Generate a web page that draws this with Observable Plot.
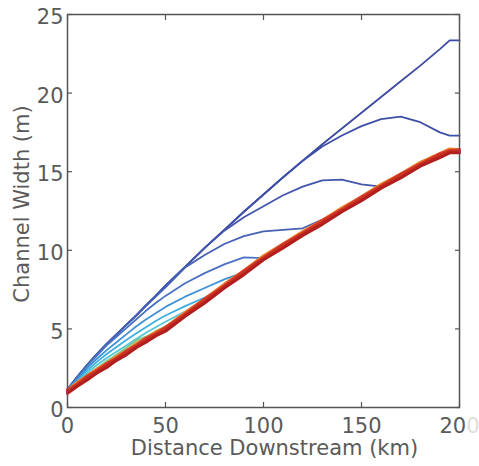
<!DOCTYPE html>
<html>
<head>
<meta charset="utf-8">
<script src="https://cdn.jsdelivr.net/npm/d3@7"></script>
<script src="https://cdn.jsdelivr.net/npm/@observablehq/plot@0.6"></script>
<style>
  html, body { margin: 0; padding: 0; background: #fff; }
  #wrap { position: relative; width: 479px; height: 466px; overflow: hidden; }
  #fade { position: absolute; left: 467px; top: 0; width: 12px; height: 466px; background: rgba(255,255,255,0.8); }
</style>
</head>
<body>
<div id="wrap"><div id="chart"></div><div id="fade"></div></div>
<script>
// Distance downstream (km)
const km = [0,5,10,15,20,25,30,35,40,45,50,60,70,80,90,100,110,120,130,140,150,160,170,180,190,195,200];

// Channel width (m) per model run, blue (first) to red (last)
const run1 = [1.15,1.95,2.7,3.4,4.05,4.65,5.25,5.85,6.5,7.1,7.75,8.95,10.15,11.3,12.45,13.55,14.65,15.7,16.75,17.75,18.75,19.75,20.75,21.75,22.8,23.35,23.35];
const run2 = [1.15,1.95,2.7,3.4,4.05,4.65,5.25,5.85,6.5,7.1,7.75,8.95,10.15,11.3,12.45,13.55,14.65,15.7,16.6,17.3,17.9,18.35,18.5,18.15,17.5,17.3,17.3];
const run3 = [1.15,1.95,2.7,3.4,4.05,4.65,5.25,5.85,6.5,7.1,7.75,8.95,10.15,11.25,12.1,12.8,13.5,14.05,14.45,14.5,14.2,14.05,14.75,15.45,16.05,16.3,16.3];
const run4 = [1.15,1.95,2.7,3.4,4.05,4.65,5.25,5.85,6.45,7.05,7.65,8.9,9.7,10.4,10.9,11.2,11.3,11.4,11.95,12.55,13.3,14.05,14.75,15.45,16.05,16.3,16.3];
const run5 = [1.15,1.9,2.65,3.3,3.95,4.5,5.05,5.6,6.15,6.65,7.1,7.9,8.55,9.1,9.55,9.5,10.3,11.05,11.8,12.55,13.3,14.05,14.75,15.45,16.05,16.3,16.3];
const run6 = [1.1,1.8,2.5,3.1,3.65,4.15,4.65,5.15,5.6,6.0,6.4,7.05,7.6,8.15,8.6,9.5,10.3,11.05,11.8,12.55,13.3,14.05,14.75,15.45,16.05,16.3,16.3];
const run7 = [1.1,1.7,2.35,2.9,3.4,3.85,4.3,4.7,5.1,5.5,5.85,6.45,7.0,7.7,8.6,9.5,10.3,11.05,11.8,12.55,13.3,14.05,14.75,15.45,16.05,16.3,16.3];
const run8 = [1.05,1.6,2.2,2.7,3.15,3.55,3.95,4.35,4.75,5.1,5.45,6.1,6.85,7.7,8.6,9.5,10.3,11.05,11.8,12.55,13.3,14.05,14.75,15.45,16.05,16.3,16.3];
const run9 = [1.0,1.5,2.05,2.5,2.95,3.35,3.8,4.25,4.5,4.85,5.15,5.95,6.85,7.7,8.6,9.5,10.3,11.05,11.8,12.55,13.3,14.05,14.75,15.45,16.05,16.3,16.3];
const run10 = [0.9,1.35,1.8,2.2,2.6,3.0,3.4,3.8,4.2,4.55,4.9,5.8,6.7,7.6,8.5,9.4,10.2,10.95,11.7,12.45,13.2,13.95,14.65,15.35,15.95,16.2,16.2];
const run11 = [1.1,1.6,2.0,2.45,2.8,3.25,3.6,4.05,4.4,4.8,5.1,6.05,6.9,7.85,8.7,9.65,10.4,11.2,11.9,12.7,13.4,14.2,14.85,15.6,16.15,16.45,16.4];
const run12 = [1.1,1.5,2.0,2.35,2.8,3.15,3.6,3.95,4.4,4.7,5.1,5.95,6.9,7.75,8.7,9.55,10.4,11.1,11.9,12.6,13.4,14.1,14.85,15.5,16.15,16.35,16.4];
const run13 = [1.0,1.45,1.9,2.3,2.7,3.1,3.5,3.9,4.3,4.65,5.0,5.9,6.8,7.7,8.6,9.5,10.3,11.05,11.8,12.55,13.3,14.05,14.75,15.45,16.05,16.3,16.3];
const run14 = [0.9,1.35,1.75,2.2,2.55,3.0,3.35,3.8,4.15,4.55,4.85,5.8,6.65,7.6,8.45,9.4,10.15,10.95,11.65,12.45,13.15,13.95,14.6,15.35,15.9,16.2,16.2];

const runs = [run1, run2, run3, run4, run5, run6, run7, run8, run9, run10, run11, run12, run13, run14];
const colors = ["#3b49a0","#3e4fa6","#4256ad","#4660b4","#4a72c2","#3f92d5","#3cb0e2","#55c6d6","#7fc88a","#d8bc44","#e8882f","#d8402a","#c83020","#b21e1e"];
const widths = [1.8,1.8,1.8,1.8,1.8,1.8,1.8,1.8,2,2.5,3,3,3,3];

const xTicks = [0, 50, 100, 150, 200];
const yTicks = [0, 5, 10, 15, 20, 25];

const font = "'DejaVu Sans', sans-serif";
const ink = "#555";
const textInk = "#5a5a5a";

const lineMarks = runs.map((r, j) =>
  Plot.line(km.map((k, i) => ({km: k, w: r[i]})), {
    x: "km", y: "w", stroke: colors[j], strokeWidth: widths[j],
    strokeLinejoin: "round", strokeLinecap: "round"
  })
);

const chart = Plot.plot({
  width: 479,
  height: 466,
  marginLeft: 67,
  marginRight: 20,
  marginTop: 14,
  marginBottom: 59,
  style: {fontFamily: font, background: "transparent", overflow: "visible"},
  x: {domain: [0, 200]},
  y: {domain: [0, 25]},
  marks: [
    ...lineMarks,
    Plot.frame({stroke: ink, strokeWidth: 1.5}),
    Plot.axisX({anchor: "bottom", ticks: xTicks, tickSize: -5, stroke: ink, strokeWidth: 1.2, tickFormat: () => "", label: null}),
    Plot.axisX({anchor: "top", ticks: xTicks, tickSize: -5, stroke: ink, strokeWidth: 1.2, tickFormat: () => "", label: null}),
    Plot.axisY({anchor: "left", ticks: yTicks, tickSize: -5, stroke: ink, strokeWidth: 1.2, tickFormat: () => "", label: null}),
    Plot.axisY({anchor: "right", ticks: yTicks, tickSize: -5, stroke: ink, strokeWidth: 1.2, tickFormat: () => "", label: null}),
    Plot.axisX({anchor: "bottom", ticks: xTicks, tickSize: 0, tickPadding: 11, fontSize: 21, fill: textInk, label: null}),
    Plot.axisY({anchor: "left", ticks: yTicks, tickSize: 0, tickPadding: 4, fontSize: 21, fill: textInk, dy: 3, label: null}),
    Plot.text(["Distance Downstream (km)"], {frameAnchor: "bottom", textAnchor: "middle", dx: 11, dy: 41, fontSize: 21, fill: textInk, lineAnchor: "middle"}),
    Plot.text(["Channel Width (m)"], {frameAnchor: "left", textAnchor: "middle", dx: -45, dy: -7, rotate: -90, fontSize: 21, fill: textInk, lineAnchor: "middle"})
  ]
});
document.getElementById("chart").appendChild(chart);
</script>
</body>
</html>
